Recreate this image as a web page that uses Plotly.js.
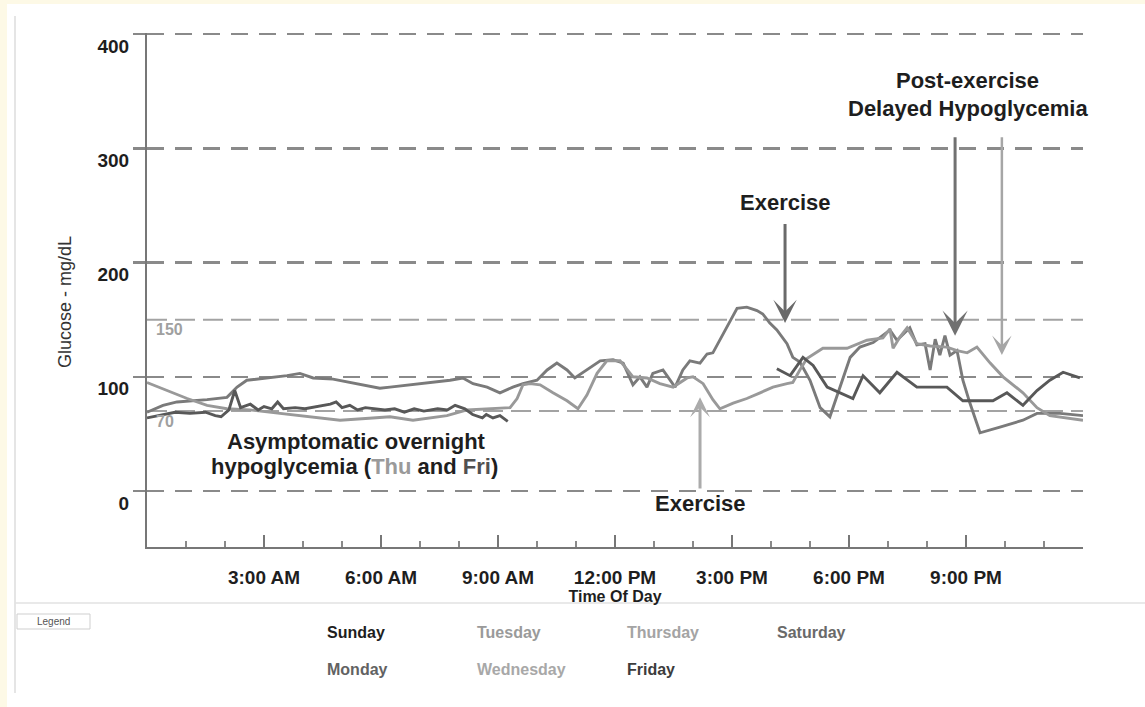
<!DOCTYPE html>
<html>
<head>
<meta charset="utf-8">
<script src="https://cdn.plot.ly/plotly-3.0.1.min.js"></script>
<style>
  html, body { margin: 0; padding: 0; background: #fdf9e6; }
  #chart { width: 1145px; height: 707px; }
</style>
</head>
<body>
<div id="chart"></div>
<script>
// ---- Data (hours since midnight, glucose mg/dL) ----
const xTickVals = [3, 6, 9, 12, 15, 18, 21];
const xTickLabels = ['3:00 AM', '6:00 AM', '9:00 AM', '12:00 PM', '3:00 PM', '6:00 PM', '9:00 PM'];
const yTickVals = [0, 100, 200, 300, 400];
const targetLines = [150, 70];

const wedHours = [0,0.41,0.77,1.54,2.05,2.31,2.56,3.08,3.59,3.92,4.26,4.77,5.38,5.97,6.23,6.74,7.26,7.77,8.10,8.36,8.72,9.05,9.38,9.64,10.0,10.26,10.51,10.77,10.97,11.28,11.62,11.95,12.21,12.46,12.64,12.82,12.97,13.23,13.41,13.54,13.74,13.92,14.18,14.36,14.51,14.69,14.87,15.13,15.38,15.64,15.79,15.97,16.15,16.41,16.56,16.74,17.0,17.26,17.51,17.77,18.03,18.28,18.62,19.05,19.23,19.56,19.74,19.95,20.08,20.21,20.33,20.46,20.59,20.77,20.92,21.10,21.36,21.87,22.46,22.82,23.41,24.0];
const wedGlucose = [69,75,78,80,82,91,97,99,101,103,99,98,94,90,91,93,95,97,99,94,91,86,91,94,97,106,112,106,99,106,114,115,112,93,100,91,103,106,97,91,106,114,112,120,121,132,143,160,161,158,155,147,141,129,117,113,97,73,65,91,117,126,130,141,132,143,128,129,106,133,119,136,119,123,97,77,51,56,62,68,68,66];

const thuHours = [0,0.51,1.03,1.54,2.05,2.64,3.41,4.10,4.95,5.79,6.23,6.82,7.26,7.69,8.21,8.79,9.31,9.49,9.64,9.82,10.08,10.41,10.77,11.05,11.28,11.54,11.79,12.13,12.46,12.82,13.15,13.49,13.85,14.0,14.26,14.51,14.69,15.03,15.38,15.72,16.05,16.41,16.56,16.74,16.92,17.33,17.95,18.46,18.87,19.05,19.13,19.31,19.49,19.74,20.08,20.51,20.77,21.03,21.28,21.62,21.95,22.46,22.82,23.15,24.0];
const thuGlucose = [95,88,81,75,72,71,68,65,62,64,65,62,64,66,71,72,73,81,93,94,93,86,79,72,84,103,114,114,100,99,94,91,99,100,94,80,72,77,81,86,91,94,95,106,116,125,125,132,134,142,125,135,143,129,127,126,123,121,126,112,100,86,73,66,62];

const friHours = [0,0.33,0.72,1.1,1.5,1.75,1.9,2.1,2.25,2.4,2.65,2.85,3.0,3.2,3.35,3.5,3.8,4.05,4.4,4.7,4.85,5.0,5.2,5.4,5.6,5.85,6.1,6.35,6.6,6.85,7.1,7.45,7.7,7.9,8.15,8.35,8.6,8.7,8.87,9.05,9.25,12.7,16.15,16.49,16.82,17.08,17.44,17.77,18.10,18.36,18.79,19.23,19.74,20.51,20.92,21.69,22.05,22.46,22.82,23.15,23.49,23.92];
const friGlucose = [64,66,69,68,69,66,65,71,88,73,76,71,74,72,78,72,73,72,74,76,78,73,75,71,73,72,71,72,69,72,70,72,71,75,72,67,64,67,64,66,61,null,107,101,117,110,91,86,81,101,86,104,91,91,79,79,86,75,88,97,104,99];

const days = ['Sunday', 'Monday', 'Tuesday', 'Wednesday', 'Thursday', 'Friday', 'Saturday'];
const dayColors = ['#1e1e1e', '#626262', '#9a9a9a', '#a8a8a8', '#a4a4a4', '#3c3c3c', '#6a6a6a'];

// ---- Layout helpers (pixel -> paper) ----
const W = 1145, H = 707, L = 147, R = 62, T = 33, B = 160;
const PW = W - L - R, PH = H - T - B;
const px = v => (v - L) / PW;
const py = v => (H - B - v) / PH;

const FONT = '"Liberation Sans", Arial, Helvetica, sans-serif';

const traces = [
  { x: wedHours, y: wedGlucose, name: 'Wednesday', type: 'scatter', mode: 'lines',
    line: { color: '#7a7a7a', width: 2.9 }, hoverinfo: 'skip' },
  { x: thuHours, y: thuGlucose, name: 'Thursday', type: 'scatter', mode: 'lines',
    line: { color: '#999999', width: 2.9 }, hoverinfo: 'skip' },
  { x: friHours, y: friGlucose, name: 'Friday', type: 'scatter', mode: 'lines',
    line: { color: '#585858', width: 2.9 }, connectgaps: false, hoverinfo: 'skip' }
];

const shapes = [
  // white panel
  { type: 'rect', xref: 'paper', yref: 'paper', x0: px(7), x1: px(1150), y0: py(712), y1: py(4),
    fillcolor: '#ffffff', line: { width: 0 }, layer: 'below' },
  // panel left border
  { type: 'line', xref: 'paper', yref: 'paper', x0: px(15), x1: px(15), y0: py(693), y1: py(16),
    line: { color: '#dcdcdc', width: 1.5 }, layer: 'below' },
  // separator above legend
  { type: 'line', xref: 'paper', yref: 'paper', x0: px(15), x1: px(1145), y0: py(603), y1: py(603),
    line: { color: '#e2e2e2', width: 1.5 }, layer: 'below' },
  // legend label box
  { type: 'rect', xref: 'paper', yref: 'paper', x0: px(17), x1: px(90), y0: py(629), y1: py(614),
    fillcolor: '#ffffff', line: { color: '#cfcfcf', width: 1 }, layer: 'below' }
];
targetLines.forEach(v => shapes.push({
  type: 'line', xref: 'x', yref: 'y', x0: 0, x1: 24, y0: v, y1: v,
  line: { color: '#a3a3a3', width: 2, dash: '20px,8px' }, layer: 'below'
}));

const boldFont = (size, color) => ({ family: FONT, size: size, color: color || '#1e1e1e', weight: 'bold' });

const annotations = [
  // target line labels
  { x: 0.18, y: 141.5, xref: 'x', yref: 'y', text: String(targetLines[0]), showarrow: false,
    xanchor: 'left', yanchor: 'middle', font: boldFont(16, '#a0a0a0') },
  { x: 0.18, y: 61, xref: 'x', yref: 'y', text: String(targetLines[1]), showarrow: false,
    xanchor: 'left', yanchor: 'middle', font: boldFont(16, '#a0a0a0') },
  // event text
  { x: 16.36, y: 253, xref: 'x', yref: 'y', text: 'Exercise', showarrow: false, font: boldFont(22) },
  { x: 14.18, y: -10.5, xref: 'x', yref: 'y', text: 'Exercise', showarrow: false, font: boldFont(22) },
  { x: 21.05, y: 359, xref: 'x', yref: 'y', text: 'Post-exercise', showarrow: false, font: boldFont(22) },
  { x: 21.05, y: 334.5, xref: 'x', yref: 'y', text: 'Delayed Hypoglycemia', showarrow: false, font: boldFont(22) },
  { x: 5.38, y: 43.7, xref: 'x', yref: 'y', text: 'Asymptomatic overnight', showarrow: false, font: boldFont(22) },
  { x: 5.33, y: 21.8, xref: 'x', yref: 'y',
    text: 'hypoglycemia (<span style="color:#9a9a9a">Thu</span> and <span style="color:#505050">Fri</span>)',
    showarrow: false, font: boldFont(22) },
  // arrows
  { x: 16.36, y: 147, ax: 16.36, ay: 235, xref: 'x', yref: 'y', axref: 'x', ayref: 'y', text: '',
    showarrow: true, arrowhead: 3, arrowsize: 1.3, arrowwidth: 3, arrowcolor: '#6a6a6a', standoff: 0 },
  { x: 14.18, y: 82, ax: 14.18, ay: 1, xref: 'x', yref: 'y', axref: 'x', ayref: 'y', text: '',
    showarrow: true, arrowhead: 3, arrowsize: 1.1, arrowwidth: 3, arrowcolor: '#ababab', standoff: 0 },
  { x: 20.72, y: 136, ax: 20.72, ay: 311, xref: 'x', yref: 'y', axref: 'x', ayref: 'y', text: '',
    showarrow: true, arrowhead: 3, arrowsize: 1.4, arrowwidth: 3, arrowcolor: '#717171', standoff: 0 },
  { x: 21.92, y: 119, ax: 21.92, ay: 311, xref: 'x', yref: 'y', axref: 'x', ayref: 'y', text: '',
    showarrow: true, arrowhead: 3, arrowsize: 1.3, arrowwidth: 2.5, arrowcolor: '#a6a6a6', standoff: 0 },
  // y-axis title
  { x: px(65), y: py(302), xref: 'paper', yref: 'paper', xanchor: 'center', yanchor: 'middle',
    text: 'Glucose - mg/dL', textangle: -90,
    showarrow: false, font: { family: FONT, size: 18, color: '#333333' } },
  // legend label
  { x: px(53), y: py(621.5), xref: 'paper', yref: 'paper', xanchor: 'center', yanchor: 'middle',
    text: 'Legend', showarrow: false, font: { family: FONT, size: 10, color: '#555555' } }
];

const colX = [325, 475, 625, 775];
const rowY = [632, 669];
days.forEach((d, i) => {
  annotations.push({
    x: px(colX[Math.floor(i / 2)]), y: py(rowY[i % 2]), xref: 'paper', yref: 'paper',
    text: d, showarrow: false, xanchor: 'left', yanchor: 'middle',
    font: boldFont(16, dayColors[i])
  });
});

const layout = {
  width: W, height: H,
  margin: { l: L, r: R, t: T, b: B, pad: 0 },
  paper_bgcolor: '#fdf9e6',
  plot_bgcolor: 'rgba(0,0,0,0)',
  showlegend: false,
  font: { family: FONT, color: '#1e1e1e' },
  xaxis: {
    range: [0, 24], tickmode: 'array', tickvals: xTickVals, ticktext: xTickLabels,
    ticks: 'inside', ticklen: 12, tickwidth: 2, tickcolor: '#777777',
    showline: true, linecolor: '#777777', linewidth: 2,
    showgrid: false, zeroline: false,
    tickfont: boldFont(19), ticklabelstandoff: 12,
    minor: { tickmode: 'linear', tick0: 0, dtick: 1, ticks: 'inside', ticklen: 6, tickwidth: 1.5, tickcolor: '#8a8a8a', showgrid: false },
    title: { text: 'Time Of Day', font: boldFont(16), standoff: 0 },
    fixedrange: true
  },
  yaxis: {
    range: [-49, 401], tickmode: 'array', tickvals: yTickVals,
    ticks: 'outside', ticklen: 12, tickwidth: 2.5, tickcolor: '#888888',
    showline: true, linecolor: '#777777', linewidth: 2,
    showgrid: true, gridcolor: '#8a8a8a', gridwidth: 2.5, griddash: '17px,11px',
    zeroline: false, tickfont: boldFont(19), ticklabelshift: 12,
    fixedrange: true
  },
  shapes: shapes,
  annotations: annotations
};

Plotly.newPlot('chart', traces, layout, { displayModeBar: false, staticPlot: true });
</script>
</body>
</html>
